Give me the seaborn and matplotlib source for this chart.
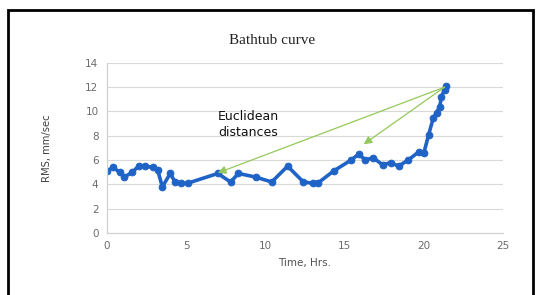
import pandas as pd
import matplotlib
matplotlib.use("Agg")
import matplotlib.pyplot as plt
import seaborn as sns
from matplotlib.patches import Rectangle

# RMS readings
time_hrs = [0.0, 0.4, 0.8, 1.1, 1.6, 2.0, 2.4, 2.9, 3.2, 3.5, 4.0, 4.3, 4.7, 5.1,
            7.0, 7.8, 8.3, 9.4, 10.4, 11.4, 12.4, 13.0, 13.3, 14.3, 15.4, 15.9,
            16.3, 16.8, 17.4, 17.9, 18.4, 19.0, 19.7, 20.0, 20.3, 20.6, 20.8,
            21.0, 21.1, 21.3, 21.4]
rms = [5.1, 5.4, 5.0, 4.6, 5.0, 5.5, 5.5, 5.4, 5.2, 3.8, 4.9, 4.2, 4.1, 4.1,
       4.9, 4.2, 4.9, 4.6, 4.2, 5.5, 4.2, 4.1, 4.1, 5.1, 6.0, 6.5,
       6.0, 6.2, 5.6, 5.8, 5.5, 6.0, 6.7, 6.6, 8.1, 9.5, 9.9,
       10.4, 11.2, 11.8, 12.1]

# euclidean distance arrows: from the end point back to earlier states
arrow_from = (21.3, 12.0)
arrow_to_x = [7.0, 16.2]
arrow_to_y = [4.95, 7.3]

y_ticks = [0, 2, 4, 6, 8, 10, 12, 14]
x_ticks = [0, 5, 10, 15, 20, 25]

df = pd.DataFrame({"Time": time_hrs, "RMS": rms})

sns.set_style("white")
fig = plt.figure(figsize=(5.37, 2.95), dpi=100)
ax = fig.add_axes([0.199, 0.21, 0.738, 0.577])

for gy in y_ticks[1:]:
    ax.axhline(gy, color="#d9d9d9", lw=0.8, zorder=0)

sns.lineplot(data=df, x="Time", y="RMS", ax=ax, sort=False, color="#1f63c6",
             lw=2.6, marker="o", markersize=4.8, markeredgecolor="#1f63c6")

for tx, ty in zip(arrow_to_x, arrow_to_y):
    ax.annotate("", xy=(tx, ty), xytext=arrow_from,
                arrowprops=dict(arrowstyle="-|>", color="#93c95a", lw=0.9,
                                mutation_scale=12, shrinkA=0, shrinkB=0))

ax.text(7.0, 8.9, "Euclidean\ndistances", fontsize=9, color="#111111",
        va="center", ha="left", linespacing=1.3)

ax.set_xlim(0, 25)
ax.set_ylim(0, 14)
ax.set_xticks(x_ticks)
ax.set_yticks(y_ticks)
ax.tick_params(axis="both", labelsize=7.5, labelcolor="#6b6b6b", length=0, pad=6)
for s in ["top", "right"]:
    ax.spines[s].set_visible(False)
for s in ["left", "bottom"]:
    ax.spines[s].set_color("#d0d0d0")
    ax.spines[s].set_linewidth(0.9)

ax.set_xlabel("Time, Hrs.", fontsize=7.5, color="#505050", labelpad=5)
ax.set_ylabel("RMS, mm/sec", fontsize=8, color="#404040", labelpad=24,
              fontstretch="condensed")
fig.text(0.507, 0.862, "Bathtub curve", family="Liberation Serif", fontsize=11,
         ha="center", va="center", color="#222222")

fig.patches.append(Rectangle((0.015, -0.05), 0.977, 1.016, transform=fig.transFigure,
                             fill=False, edgecolor="black", lw=2.0))

fig.savefig("out.png", dpi=100)
